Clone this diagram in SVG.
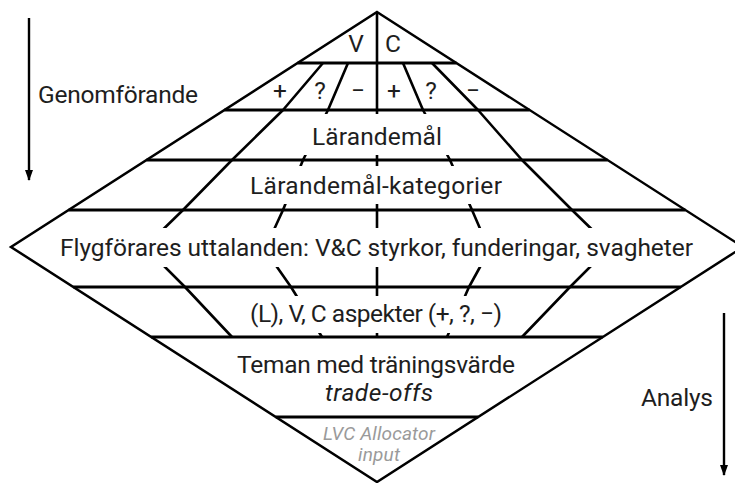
<svg xmlns="http://www.w3.org/2000/svg" width="735" height="483" viewBox="0 0 735 483">
<defs>
<style>
.edge{fill:none;stroke:#000;stroke-width:2.5;stroke-linejoin:miter}
.hl{stroke:#000;stroke-width:3.2}
.fan{fill:none;stroke:#000;stroke-width:2.6;stroke-linejoin:round}
.mask{fill:#fff;stroke:none}
.t{font-family:Roboto,"Liberation Sans",sans-serif;font-size:24.5px;fill:#1e1e1e;text-anchor:middle}
.it{font-style:italic}
.gray{fill:#9a9a9a;font-size:19px}
.arr{stroke:#000;stroke-width:2.4}
</style>
<marker id="ah" markerWidth="11" markerHeight="8" refX="10" refY="4" orient="auto" markerUnits="userSpaceOnUse" viewBox="0 0 11 8">
<path d="M0,0 L11,4 L0,8 Z" fill="#000"/>
</marker>
</defs>
<rect width="735" height="483" fill="#fff"/>

<g id="connectors">
<polyline class="fan" points="323,63 283,110 232,160 183,210 145,247 185,287 232,337"/>
<polyline class="fan" points="348,63 328,110 303,160 283,210 266,247 277,267 291,287 322,337"/>
<line class="fan" x1="377" y1="12" x2="377" y2="337"/>
<polyline class="fan" points="403,63 423,110 450,160 472,210 488,247 480,267 469,287 447,337"/>
<polyline class="fan" points="432,63 478,110 522,160 572,210 610,247 570,287 522,337"/>
<rect class="mask" x="293" y="114" width="172" height="41"/>
<rect class="mask" x="245" y="166" width="265" height="38"/>
<rect class="mask" x="55" y="228" width="640" height="39"/>
<rect class="mask" x="243" y="296" width="268" height="37"/>
<line class="hl" x1="297.6" y1="63" x2="456.4" y2="63"/>
<line class="hl" x1="224.4" y1="110" x2="529.6" y2="110"/>
<line class="hl" x1="146.5" y1="160" x2="607.5" y2="160"/>
<line class="hl" x1="68.6" y1="210" x2="685.4" y2="210"/>
<line class="hl" x1="73.3" y1="287" x2="680.7" y2="287"/>
<line class="hl" x1="151.2" y1="337" x2="602.8" y2="337"/>
<line class="hl" x1="275.8" y1="417" x2="478.2" y2="417"/>
<line class="arr" x1="29" y1="18" x2="29" y2="180" marker-end="url(#ah)"/>
<line class="arr" x1="724" y1="313" x2="724" y2="475" marker-end="url(#ah)"/>
</g>

<g id="diamond">
<polygon class="edge" points="377,12 743,247 377,482 11,247"/>
</g>

<g id="vc">
<text class="t" x="356" y="52">V</text>
<text class="t" x="393" y="52">C</text>
</g>
<g id="aspects">
<text class="t" x="280" y="99">+</text>
<text class="t" x="320" y="99">?</text>
<text class="t" x="358" y="99">−</text>
<text class="t" x="394" y="99">+</text>
<text class="t" x="431" y="99">?</text>
<text class="t" x="473" y="99">−</text>
</g>
<g id="larandemal"><text class="t" x="377" y="145" textLength="130" lengthAdjust="spacing">Lärandemål</text></g>
<g id="kategorier"><text class="t" x="376" y="194" textLength="252" lengthAdjust="spacing">Lärandemål-kategorier</text></g>
<g id="uttalanden"><text class="t" x="376.5" y="256" textLength="633" lengthAdjust="spacing">Flygförares uttalanden: V&amp;C styrkor, funderingar, svagheter</text></g>
<g id="aspekter"><text class="t" x="376" y="322" textLength="252" lengthAdjust="spacing">(L), V, C aspekter (+, ?, −)</text></g>
<g id="teman">
<text class="t" x="376" y="373" textLength="278" lengthAdjust="spacing">Teman med träningsvärde</text>
<text class="t it" x="379" y="401" textLength="108" lengthAdjust="spacing">trade-offs</text>
</g>
<g id="lvc">
<text class="t it gray" x="379" y="440" textLength="112" lengthAdjust="spacing">LVC Allocator</text>
<text class="t it gray" x="379" y="461" textLength="42" lengthAdjust="spacing">input</text>
</g>
<g id="genomforande"><text class="t" x="118" y="103" textLength="160" lengthAdjust="spacing">Genomförande</text></g>
<g id="analys"><text class="t" x="677" y="406" textLength="72" lengthAdjust="spacing">Analys</text></g>
</svg>
